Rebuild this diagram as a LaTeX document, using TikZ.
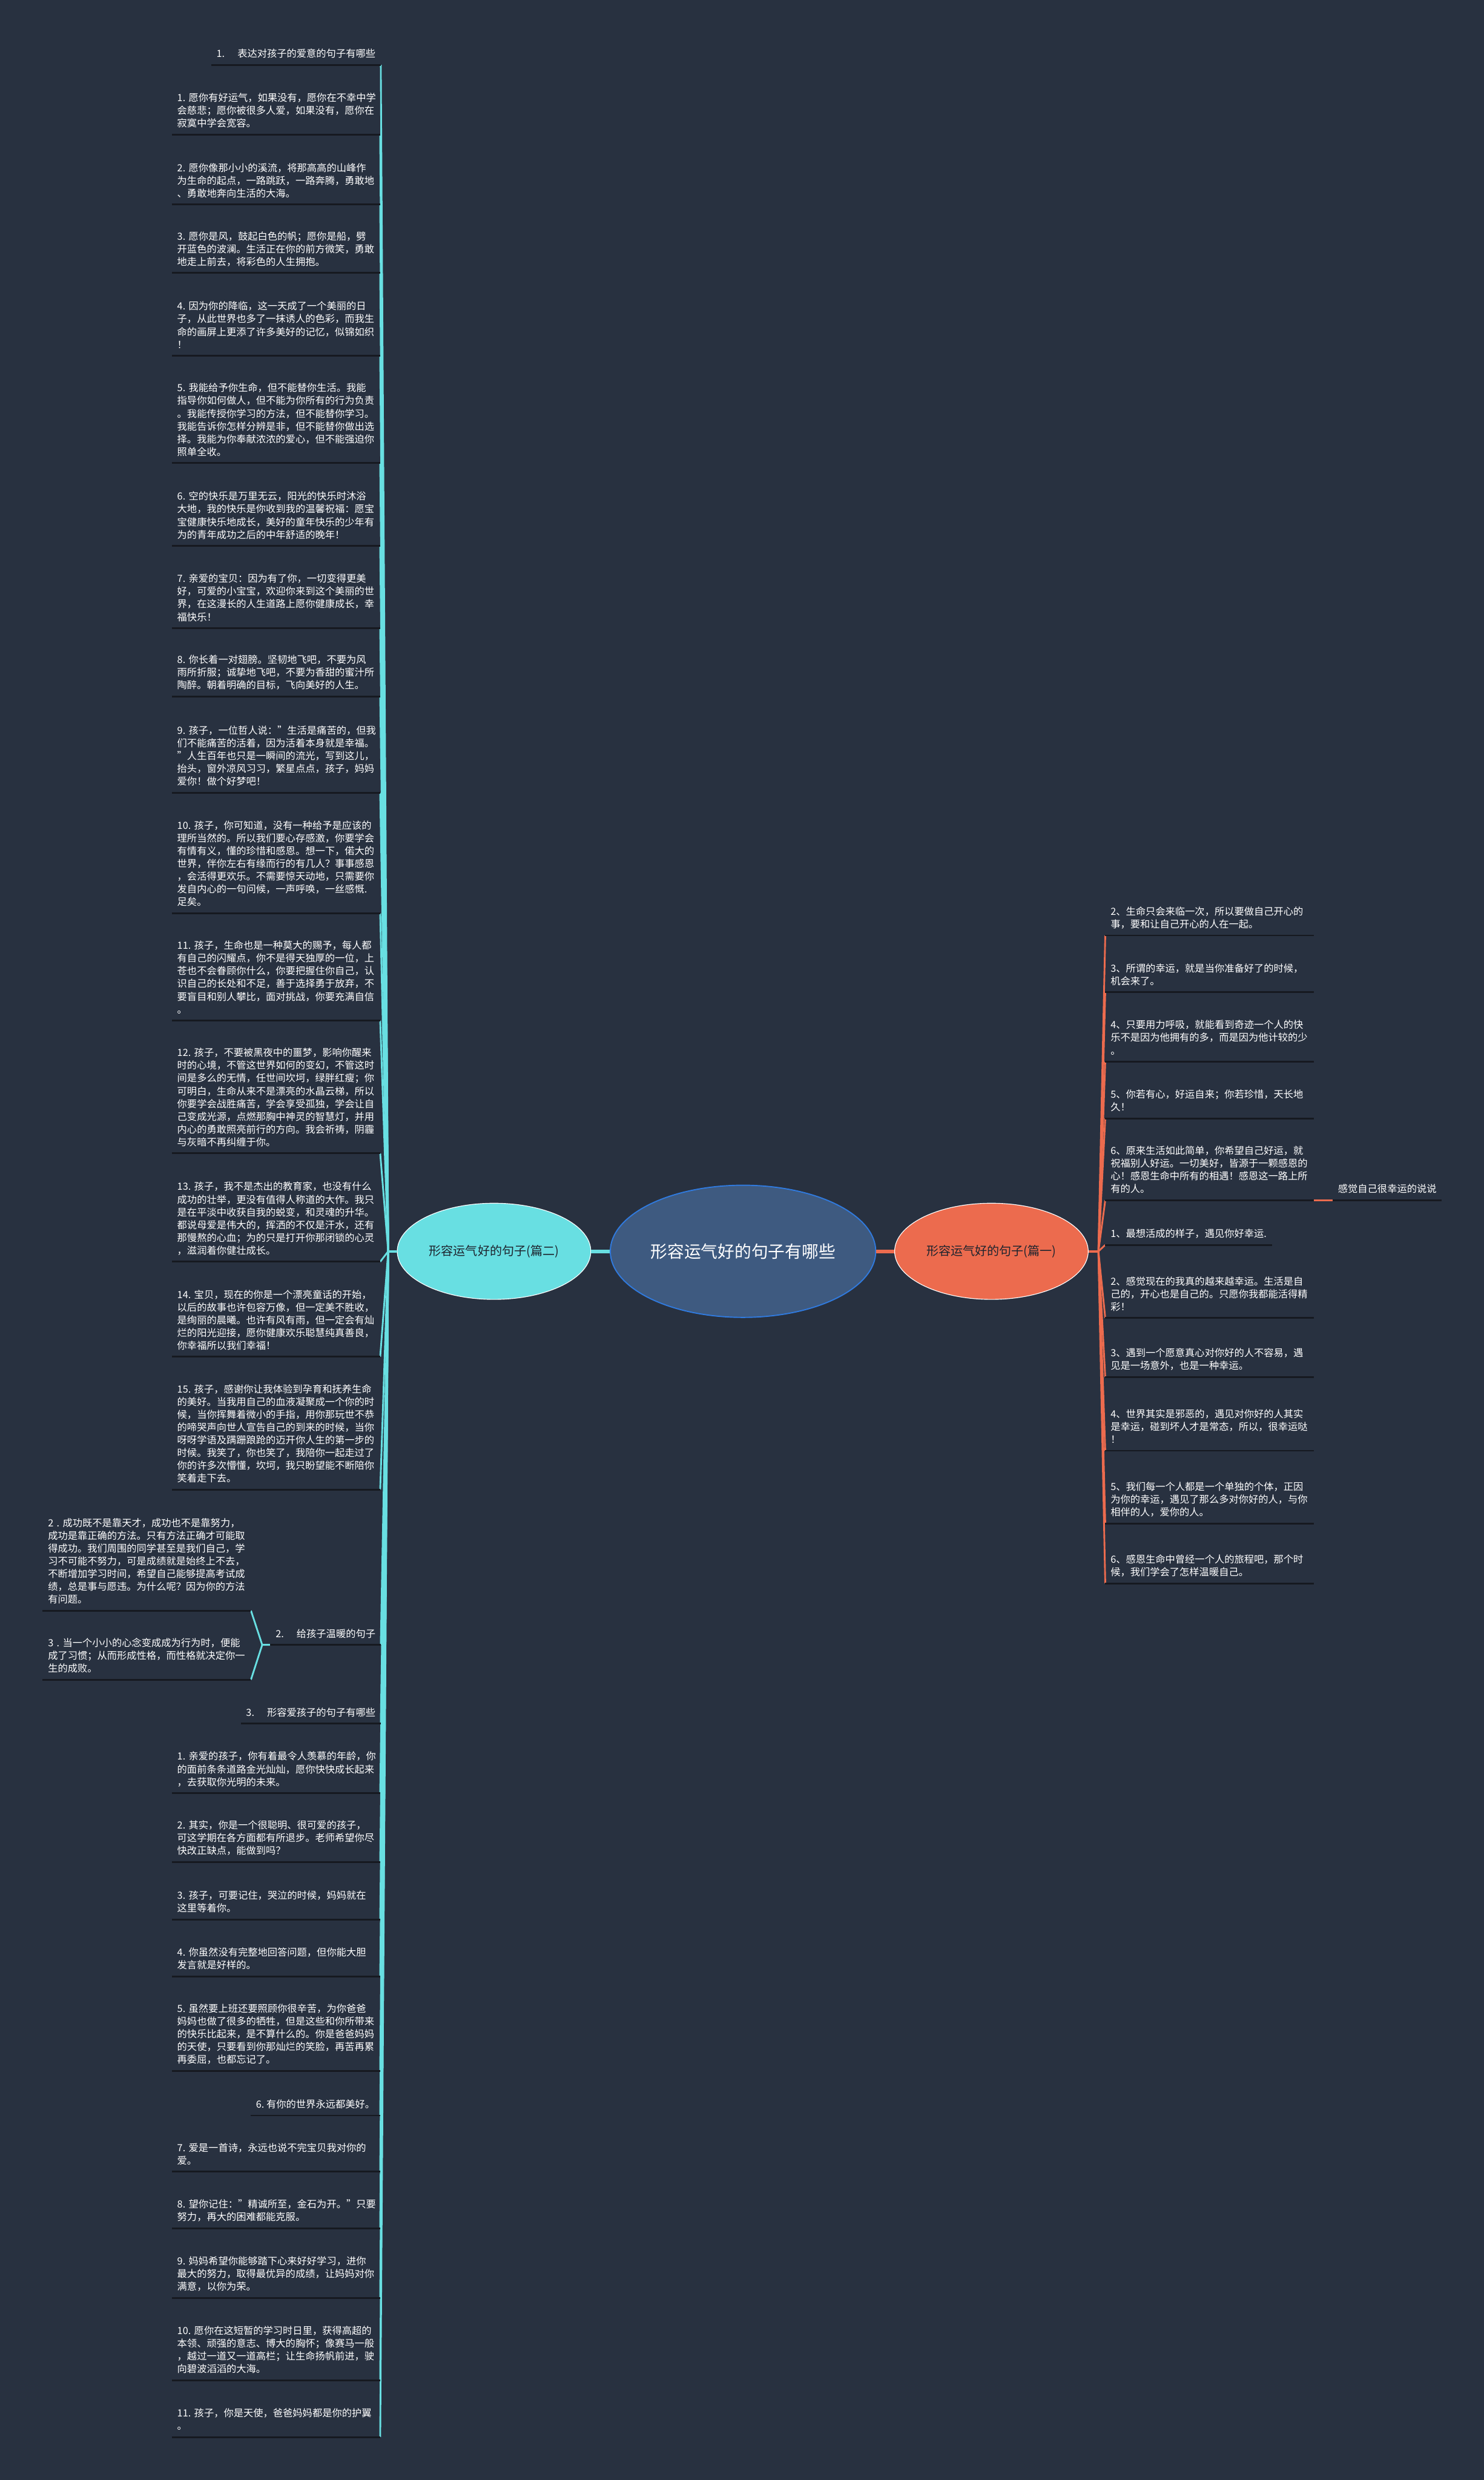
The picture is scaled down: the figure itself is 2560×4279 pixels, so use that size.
\documentclass[tikz,border=0pt]{standalone}
\usepackage{fontspec}
\setmainfont{Noto Sans CJK SC}
\usepackage{tikz}
\usetikzlibrary{positioning, shapes.geometric}
\definecolor{bgnavy}{RGB}{40,49,64}
\definecolor{rootblue}{RGB}{62,90,128}
\definecolor{rootedge}{RGB}{48,122,222}
\definecolor{twocyan}{RGB}{104,223,226}
\definecolor{oneorange}{RGB}{236,107,78}
\definecolor{lineblack}{RGB}{22,25,32}
\definecolor{subtext}{RGB}{30,36,46}

\newcommand{\leaffont}{\fontsize{17}{22}\selectfont}

\tikzset{
  leaf/.style={font=\leaffont, text=white, align=left, inner xsep=9pt, inner ysep=6.4pt, execute at end node=\strut},
  lleaf/.style={leaf, anchor=south east, text width=341pt},
  rleaf/.style={leaf, anchor=south west, text width=342pt},
  sect/.style={leaf, anchor=south east},
  uline/.style={draw=lineblack, line width=3pt},
  cyanline/.style={draw=twocyan, line width=3pt},
  orangeline/.style={draw=oneorange, line width=3pt},
  topic/.style={ellipse, draw=white, line width=1.2pt, minimum width=334pt, minimum height=166pt,
    inner sep=0pt, font=\fontsize{21}{24}\selectfont, text=subtext},
}

\begin{document}
\begin{tikzpicture}[x=1pt, y=-1pt]
  \path[use as bounding box, fill=bgnavy] (0,0) rectangle (2560,4279);

  % centre and the two parts
  \node[ellipse, fill=rootblue, draw=rootedge, line width=2pt, minimum width=458pt, minimum height=228pt,
        inner sep=0pt, text=white, font=\fontsize{29}{32}\selectfont] (root) at (1282,2159) {形容运气好的句子有哪些};
  \node[topic, fill=twocyan, left=32pt of root] (parttwo) {形容运气好的句子(篇二)};
  \node[topic, fill=oneorange, right=31pt of root] (partone) {形容运气好的句子(篇一)};
  \coordinate[left=15pt of parttwo] (hubL);
  \coordinate[right=17pt of partone] (hubR);

  % left: section 1
  \node[sect] (secA) at (657,112) {1.\hspace{22pt}表达对孩子的爱意的句子有哪些};
  \node[lleaf] (a1) at (656,232) {1.~愿你有好运气，如果没有，愿你在不幸中学\\会慈悲；愿你被很多人爱，如果没有，愿你在\\寂寞中学会宽容。};
  \node[lleaf] (a2) at (656,353) {2.~愿你像那小小的溪流，将那高高的山峰作\\为生命的起点，一路跳跃，一路奔腾，勇敢地\\、勇敢地奔向生活的大海。};
  \node[lleaf] (a3) at (656,471) {3.~愿你是风，鼓起白色的帆；愿你是船，劈\\开蓝色的波澜。生活正在你的前方微笑，勇敢\\地走上前去，将彩色的人生拥抱。};
  \node[lleaf] (a4) at (656,614) {4.~因为你的降临，这一天成了一个美丽的日\\子，从此世界也多了一抹诱人的色彩，而我生\\命的画屏上更添了许多美好的记忆，似锦如织\\！};
  \node[lleaf] (a5) at (656,799) {5.~我能给予你生命，但不能替你生活。我能\\指导你如何做人，但不能为你所有的行为负责\\。我能传授你学习的方法，但不能替你学习。\\我能告诉你怎样分辨是非，但不能替你做出选\\择。我能为你奉献浓浓的爱心，但不能强迫你\\照单全收。};
  \node[lleaf] (a6) at (656,942) {6.~空的快乐是万里无云，阳光的快乐时沐浴\\大地，我的快乐是你收到我的温馨祝福：愿宝\\宝健康快乐地成长，美好的童年快乐的少年有\\为的青年成功之后的中年舒适的晚年！};
  \node[lleaf] (a7) at (656,1084) {7.~亲爱的宝贝：因为有了你，一切变得更美\\好，可爱的小宝宝，欢迎你来到这个美丽的世\\界，在这漫长的人生道路上愿你健康成长，幸\\福快乐！};
  \node[lleaf] (a8) at (656,1202) {8.~你长着一对翅膀。坚韧地飞吧，不要为风\\雨所折服；诚挚地飞吧，不要为香甜的蜜汁所\\陶醉。朝着明确的目标，飞向美好的人生。};
  \node[lleaf] (a9) at (656,1368) {9.~孩子，一位哲人说："生活是痛苦的，但我\\们不能痛苦的活着，因为活着本身就是幸福。\\"人生百年也只是一瞬间的流光，写到这儿，\\抬头，窗外凉风习习，繁星点点，孩子，妈妈\\爱你！做个好梦吧！};
  \node[lleaf] (a10) at (656,1576) {10.~孩子，你可知道，没有一种给予是应该的\\理所当然的。所以我们要心存感激，你要学会\\有情有义，懂的珍惜和感恩。想一下，偌大的\\世界，伴你左右有缘而行的有几人？事事感恩\\，会活得更欢乐。不需要惊天动地，只需要你\\发自内心的一句问候，一声呼唤，一丝感慨.\\足矣。};
  \node[lleaf] (a11) at (656,1761) {11.~孩子，生命也是一种莫大的赐予，每人都\\有自己的闪耀点，你不是得天独厚的一位，上\\苍也不会眷顾你什么，你要把握住你自己，认\\识自己的长处和不足，善于选择勇于放弃，不\\要盲目和别人攀比，面对挑战，你要充满自信\\。};
  \node[lleaf] (a12) at (656,1990) {12.~孩子，不要被黑夜中的噩梦，影响你醒来\\时的心境，不管这世界如何的变幻，不管这时\\间是多么的无情，任世间坎坷，绿胖红瘦；你\\可明白，生命从来不是漂亮的水晶云梯，所以\\你要学会战胜痛苦，学会享受孤独，学会让自\\己变成光源，点燃那胸中神灵的智慧灯，并用\\内心的勇敢照亮前行的方向。我会祈祷，阴霾\\与灰暗不再纠缠于你。};
  \node[lleaf] (a13) at (656,2177) {13.~孩子，我不是杰出的教育家，也没有什么\\成功的壮举，更没有值得人称道的大作。我只\\是在平淡中收获自我的蜕变，和灵魂的升华。\\都说母爱是伟大的，挥洒的不仅是汗水，还有\\那慢熬的心血；为的只是打开你那闭锁的心灵\\，滋润着你健壮成长。};
  \node[lleaf] (a14) at (656,2341) {14.~宝贝，现在的你是一个漂亮童话的开始，\\以后的故事也许包容万像，但一定美不胜收，\\是绚丽的晨曦。也许有风有雨，但一定会有灿\\烂的阳光迎接，愿你健康欢乐聪慧纯真善良，\\你幸福所以我们幸福！};
  \node[lleaf] (a15) at (656,2570) {15.~孩子，感谢你让我体验到孕育和抚养生命\\的美好。当我用自己的血液凝聚成一个你的时\\候，当你挥舞着微小的手指，用你那玩世不恭\\的啼哭声向世人宣告自己的到来的时候，当你\\呀呀学语及蹒跚踉跄的迈开你人生的第一步的\\时候。我笑了，你也笑了，我陪你一起走过了\\你的许多次懵懂，坎坷，我只盼望能不断陪你\\笑着走下去。};

  % left: section 2
  \node[sect] (secB) at (657,2838) {2.\hspace{22pt}给孩子温暖的句子};
  \node[lleaf] (b2) at (433,2779) {2~.~成功既不是靠天才，成功也不是靠努力，\\成功是靠正确的方法。只有方法正确才可能取\\得成功。我们周围的同学甚至是我们自己，学\\习不可能不努力，可是成绩就是始终上不去，\\不断增加学习时间，希望自己能够提高考试成\\绩，总是事与愿违。为什么呢？因为你的方法\\有问题。};
  \node[lleaf] (b3) at (433,2898) {3~.~当一个小小的心念变成成为行为时，便能\\成了习惯；从而形成性格，而性格就决定你一\\生的成败。};
  \coordinate (bj) at ([xshift=-14pt]secB.south west);

  % left: section 3
  \node[sect] (secC) at (657,2974) {3.\hspace{22pt}形容爱孩子的句子有哪些};
  \node[lleaf] (c1) at (656,3094) {1.~亲爱的孩子，你有着最令人羡慕的年龄，你\\的面前条条道路金光灿灿，愿你快快成长起来\\，去获取你光明的未来。};
  \node[lleaf] (c2) at (656,3213) {2.~其实，你是一个很聪明、很可爱的孩子，\\可这学期在各方面都有所退步。老师希望你尽\\快改正缺点，能做到吗？};
  \node[lleaf] (c3) at (656,3312) {3.~孩子，可要记住，哭泣的时候，妈妈就在\\这里等着你。};
  \node[lleaf] (c4) at (656,3410) {4.~你虽然没有完整地回答问题，但你能大胆\\发言就是好样的。};
  \node[lleaf] (c5) at (656,3573) {5.~虽然要上班还要照顾你很辛苦，为你爸爸\\妈妈也做了很多的牺牲，但是这些和你所带来\\的快乐比起来，是不算什么的。你是爸爸妈妈\\的天使，只要看到你那灿烂的笑脸，再苦再累\\再委屈，也都忘记了。};
  \node[sect] (c6) at (656,3650) {6.~有你的世界永远都美好。};
  \node[lleaf] (c7) at (656,3747) {7.~爱是一首诗，永远也说不完宝贝我对你的\\爱。};
  \node[lleaf] (c8) at (656,3845) {8.~望你记住："精诚所至，金石为开。"只要\\努力，再大的困难都能克服。};
  \node[lleaf] (c9) at (656,3965) {9.~妈妈希望你能够踏下心来好好学习，进你\\最大的努力，取得最优异的成绩，让妈妈对你\\满意，以你为荣。};
  \node[lleaf] (c10) at (656,4107) {10.~愿你在这短暂的学习时日里，获得高超的\\本领、顽强的意志、博大的胸怀；像赛马一般\\，越过一道又一道高栏；让生命扬帆前进，驶\\向碧波滔滔的大海。};
  \node[lleaf] (c11) at (656,4205) {11.~孩子，你是天使，爸爸妈妈都是你的护翼\\。};

  % right side
  \node[rleaf] (ra2) at (1907,1614) {2、生命只会来临一次，所以要做自己开心的\\事，要和让自己开心的人在一起。};
  \node[rleaf] (ra3) at (1907,1712) {3、所谓的幸运，就是当你准备好了的时候，\\机会来了。};
  \node[rleaf] (ra4) at (1907,1832) {4、只要用力呼吸，就能看到奇迹一个人的快\\乐不是因为他拥有的多，而是因为他计较的少\\。};
  \node[rleaf] (ra5) at (1907,1930) {5、你若有心，好运自来；你若珍惜，天长地\\久！};
  \node[rleaf] (ra6) at (1907,2071) {6、原来生活如此简单，你希望自己好运，就\\祝福别人好运。一切美好，皆源于一颗感恩的\\心！感恩生命中所有的相遇！感恩这一路上所\\有的人。};
  \node[leaf, anchor=south west] (rlucky) at ([xshift=32pt]ra6.south east) {感觉自己很幸运的说说};
  \node[leaf, anchor=south west] (rb1) at (1907,2148) {1、最想活成的样子，遇见你好幸运.};
  \node[rleaf] (rb2) at (1907,2274) {2、感觉现在的我真的越来越幸运。生活是自\\己的，开心也是自己的。只愿你我都能活得精\\彩！};
  \node[rleaf] (rb3) at (1907,2376) {3、遇到一个愿意真心对你好的人不容易，遇\\见是一场意外，也是一种幸运。};
  \node[rleaf] (rb4) at (1907,2503) {4、世界其实是邪恶的，遇见对你好的人其实\\是幸运，碰到坏人才是常态，所以，很幸运哒\\！};
  \node[rleaf] (rb5) at (1907,2629) {5、我们每一个人都是一个单独的个体，正因\\为你的幸运，遇见了那么多对你好的人，与你\\相伴的人，爱你的人。};
  \node[rleaf] (rb6) at (1907,2732) {6、感恩生命中曾经一个人的旅程吧，那个时\\候，我们学会了怎样温暖自己。};

  % connectors
  \draw[twocyan, line width=6pt] (parttwo.east) -- (root.west);
  \draw[oneorange, line width=6pt] (root.east) -- (partone.west);
  \draw[cyanline, line width=4pt] (parttwo.west) -- (hubL);
  \draw[orangeline, line width=4pt] (partone.east) -- (hubR);
  \foreach \n in {secA,secB,secC,c6} \draw[cyanline] (hubL) -- (\n.south east);
  \foreach \i in {1,...,15} \draw[cyanline] (hubL) -- (a\i.south east);
  \foreach \i in {1,2,3,4,5,7,8,9,10,11} \draw[cyanline] (hubL) -- (c\i.south east);
  \draw[cyanline] (secB.south west) -- (bj) -- (b2.south east);
  \draw[cyanline] (bj) -- (b3.south east);
  \foreach \i in {2,...,6} \draw[orangeline] (hubR) -- (ra\i.south west);
  \foreach \i in {1,...,6} \draw[orangeline] (hubR) -- (rb\i.south west);
  \draw[orangeline] (ra6.south east) -- (rlucky.south west);

  % underlines
  \foreach \n in {secA,secB,secC,b2,b3,c6,rlucky} \draw[uline] (\n.south west) -- (\n.south east);
  \foreach \i in {1,...,15} \draw[uline] (a\i.south west) -- (a\i.south east);
  \foreach \i in {1,2,3,4,5,7,8,9,10,11} \draw[uline] (c\i.south west) -- (c\i.south east);
  \foreach \i in {2,...,6} \draw[uline] (ra\i.south west) -- (ra\i.south east);
  \foreach \i in {1,...,6} \draw[uline] (rb\i.south west) -- (rb\i.south east);
\end{tikzpicture}
\end{document}
